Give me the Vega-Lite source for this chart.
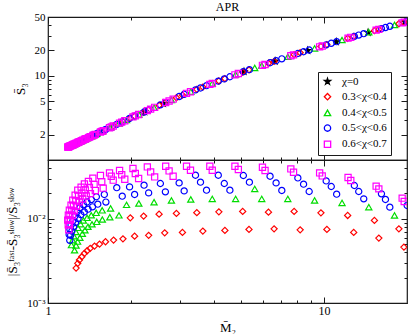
{
 "$schema": "https://vega.github.io/schema/vega-lite/v6.json",
 "background": "white",
 "padding": {"left": 6, "top": 0, "right": 3, "bottom": 2},
 "bounds": "flush",
 "config": {
  "font": "Liberation Serif",
  "view": {"stroke": "#1a1a1a", "strokeWidth": 1.2},
  "axis": {"grid": false, "domain": false, "tickColor": "#1a1a1a", "tickWidth": 1, "labelFont": "Liberation Serif", "labelFontSize": 11, "labelColor": "#000", "titleFont": "Liberation Serif", "titleFontSize": 13, "titleFontWeight": "normal", "titleColor": "#000", "labelOverlap": false, "labelFlush": false},
  "title": {"font": "Liberation Serif", "fontSize": 12, "fontWeight": "normal", "color": "#000"},
  "concat": {"spacing": 0}
 },
 "spacing": 0,
 "datasets": {"pts": [
{"chi":"χ=0","M2":2.24,"S3":3.739},{"chi":"χ=0","M2":2.619,"S3":4.693},{"chi":"χ=0","M2":5.132,"S3":11.25},{"chi":"χ=0","M2":6.652,"S3":14.97},{"chi":"χ=0","M2":8.724,"S3":19.98},{"chi":"χ=0","M2":11.08,"S3":25.39},{"chi":"χ=0","M2":14.45,"S3":32.78},{"chi":"χ=0","M2":19.65,"S3":43.54},
{"chi":"0.3<χ<0.4","M2":1.264,"S3":1.579,"D":0.0026},{"chi":"0.3<χ<0.4","M2":1.282,"S3":1.614,"D":0.00296},{"chi":"0.3<χ<0.4","M2":1.3,"S3":1.647,"D":0.00324},{"chi":"0.3<χ<0.4","M2":1.326,"S3":1.698,"D":0.00354},{"chi":"0.3<χ<0.4","M2":1.355,"S3":1.756,"D":0.00389},{"chi":"0.3<χ<0.4","M2":1.386,"S3":1.817,"D":0.00417},{"chi":"0.3<χ<0.4","M2":1.422,"S3":1.887,"D":0.00446},{"chi":"0.3<χ<0.4","M2":1.474,"S3":1.994,"D":0.00474},{"chi":"0.3<χ<0.4","M2":1.537,"S3":2.125,"D":0.00501},{"chi":"0.3<χ<0.4","M2":1.616,"S3":2.294,"D":0.00534},{"chi":"0.3<χ<0.4","M2":1.728,"S3":2.541,"D":0.00559},{"chi":"0.3<χ<0.4","M2":1.869,"S3":2.863,"D":0.00579},
{"chi":"0.3<χ<0.4","M2":1.987,"S3":3.143,"D":0.01028},{"chi":"0.3<χ<0.4","M2":2.06,"S3":3.311,"D":0.00623},{"chi":"0.3<χ<0.4","M2":2.221,"S3":3.694,"D":0.01077},{"chi":"0.3<χ<0.4","M2":2.316,"S3":3.926,"D":0.00636},{"chi":"0.3<χ<0.4","M2":2.527,"S3":4.453,"D":0.01137},{"chi":"0.3<χ<0.4","M2":2.648,"S3":4.768,"D":0.00682},{"chi":"0.3<χ<0.4","M2":2.92,"S3":5.495,"D":0.01159},{"chi":"0.3<χ<0.4","M2":3.071,"S3":5.907,"D":0.0069},{"chi":"0.3<χ<0.4","M2":3.462,"S3":6.904,"D":0.01185},{"chi":"0.3<χ<0.4","M2":3.64,"S3":7.353,"D":0.00715},{"chi":"0.3<χ<0.4","M2":4.161,"S3":8.694,"D":0.01211},{"chi":"0.3<χ<0.4","M2":4.376,"S3":9.256,"D":0.00729},{"chi":"0.3<χ<0.4","M2":5.076,"S3":11.12,"D":0.01224},{"chi":"0.3<χ<0.4","M2":5.351,"S3":11.78,"D":0.00749},{"chi":"0.3<χ<0.4","M2":6.295,"S3":14.09,"D":0.01201},{"chi":"0.3<χ<0.4","M2":6.597,"S3":14.83,"D":0.00761},{"chi":"0.3<χ<0.4","M2":7.798,"S3":17.83,"D":0.01224},{"chi":"0.3<χ<0.4","M2":8.2,"S3":18.79,"D":0.0074},{"chi":"0.3<χ<0.4","M2":9.752,"S3":22.35,"D":0.01178},{"chi":"0.3<χ<0.4","M2":10.25,"S3":23.5,"D":0.00749},{"chi":"0.3<χ<0.4","M2":12.19,"S3":27.94,"D":0.01097},{"chi":"0.3<χ<0.4","M2":12.82,"S3":29.34,"D":0.0069},{"chi":"0.3<χ<0.4","M2":15.24,"S3":34.42,"D":0.00957},{"chi":"0.3<χ<0.4","M2":15.81,"S3":35.61,"D":0.0059},{"chi":"0.3<χ<0.4","M2":18.69,"S3":41.57,"D":0.00761},{"chi":"0.3<χ<0.4","M2":19.49,"S3":43.21,"D":0.00462},
{"chi":"0.4<χ<0.5","M2":1.216,"S3":1.489,"D":0.00488},{"chi":"0.4<χ<0.5","M2":1.248,"S3":1.549,"D":0.00423},{"chi":"0.4<χ<0.5","M2":1.228,"S3":1.51,"D":0.00557},{"chi":"0.4<χ<0.5","M2":1.264,"S3":1.579,"D":0.00482},{"chi":"0.4<χ<0.5","M2":1.241,"S3":1.536,"D":0.00623},{"chi":"0.4<χ<0.5","M2":1.28,"S3":1.61,"D":0.00537},{"chi":"0.4<χ<0.5","M2":1.262,"S3":1.575,"D":0.00697},{"chi":"0.4<χ<0.5","M2":1.305,"S3":1.658,"D":0.00597},{"chi":"0.4<χ<0.5","M2":1.285,"S3":1.618,"D":0.00782},{"chi":"0.4<χ<0.5","M2":1.332,"S3":1.709,"D":0.00666},{"chi":"0.4<χ<0.5","M2":1.312,"S3":1.67,"D":0.00865},{"chi":"0.4<χ<0.5","M2":1.361,"S3":1.766,"D":0.00733},{"chi":"0.4<χ<0.5","M2":1.343,"S3":1.731,"D":0.00957},{"chi":"0.4<χ<0.5","M2":1.396,"S3":1.835,"D":0.00804},{"chi":"0.4<χ<0.5","M2":1.386,"S3":1.817,"D":0.01028},{"chi":"0.4<χ<0.5","M2":1.444,"S3":1.934,"D":0.00861},{"chi":"0.4<χ<0.5","M2":1.435,"S3":1.914,"D":0.01103},{"chi":"0.4<χ<0.5","M2":1.502,"S3":2.053,"D":0.00921},{"chi":"0.4<χ<0.5","M2":1.495,"S3":2.038,"D":0.01178},{"chi":"0.4<χ<0.5","M2":1.574,"S3":2.205,"D":0.00981},{"chi":"0.4<χ<0.5","M2":1.572,"S3":2.2,"D":0.01262},{"chi":"0.4<χ<0.5","M2":1.675,"S3":2.424,"D":0.01045},{"chi":"0.4<χ<0.5","M2":1.686,"S3":2.448,"D":0.01328},{"chi":"0.4<χ<0.5","M2":1.808,"S3":2.721,"D":0.011},
{"chi":"0.4<χ<0.5","M2":1.926,"S3":2.998,"D":0.01466},{"chi":"0.4<χ<0.5","M2":2.134,"S3":3.485,"D":0.01523},{"chi":"0.4<χ<0.5","M2":2.423,"S3":4.191,"D":0.01578},{"chi":"0.4<χ<0.5","M2":2.801,"S3":5.17,"D":0.01653},{"chi":"0.4<χ<0.5","M2":3.292,"S3":6.482,"D":0.01699},{"chi":"0.4<χ<0.5","M2":3.938,"S3":8.111,"D":0.01727},{"chi":"0.4<χ<0.5","M2":4.786,"S3":10.35,"D":0.01727},{"chi":"0.4<χ<0.5","M2":5.613,"S3":12.42,"D":0.02269},{"chi":"0.4<χ<0.5","M2":5.951,"S3":13.24,"D":0.01727},{"chi":"0.4<χ<0.5","M2":7.398,"S3":16.83,"D":0.01727},{"chi":"0.4<χ<0.5","M2":9.25,"S3":21.2,"D":0.01653},{"chi":"0.4<χ<0.5","M2":11.63,"S3":26.64,"D":0.01548},{"chi":"0.4<χ<0.5","M2":14.54,"S3":32.96,"D":0.01377},{"chi":"0.4<χ<0.5","M2":18.02,"S3":40.18,"D":0.01097},
{"chi":"0.5<χ<0.6","M2":1.193,"S3":1.446,"D":0.00651},{"chi":"0.5<χ<0.6","M2":1.199,"S3":1.458,"D":0.00556},{"chi":"0.5<χ<0.6","M2":1.201,"S3":1.461,"D":0.00745},{"chi":"0.5<χ<0.6","M2":1.208,"S3":1.474,"D":0.00636},{"chi":"0.5<χ<0.6","M2":1.212,"S3":1.482,"D":0.00842},{"chi":"0.5<χ<0.6","M2":1.22,"S3":1.495,"D":0.00715},{"chi":"0.5<χ<0.6","M2":1.231,"S3":1.516,"D":0.00952},{"chi":"0.5<χ<0.6","M2":1.239,"S3":1.531,"D":0.00804},{"chi":"0.5<χ<0.6","M2":1.251,"S3":1.553,"D":0.01077},{"chi":"0.5<χ<0.6","M2":1.259,"S3":1.569,"D":0.00904},{"chi":"0.5<χ<0.6","M2":1.275,"S3":1.6,"D":0.01211},{"chi":"0.5<χ<0.6","M2":1.285,"S3":1.618,"D":0.01008},{"chi":"0.5<χ<0.6","M2":1.305,"S3":1.658,"D":0.01358},{"chi":"0.5<χ<0.6","M2":1.315,"S3":1.677,"D":0.01122},{"chi":"0.5<χ<0.6","M2":1.344,"S3":1.733,"D":0.01466},{"chi":"0.5<χ<0.6","M2":1.354,"S3":1.753,"D":0.01207},{"chi":"0.5<χ<0.6","M2":1.385,"S3":1.815,"D":0.01587},{"chi":"0.5<χ<0.6","M2":1.397,"S3":1.838,"D":0.01303},{"chi":"0.5<χ<0.6","M2":1.436,"S3":1.917,"D":0.01694},{"chi":"0.5<χ<0.6","M2":1.45,"S3":1.946,"D":0.01388},{"chi":"0.5<χ<0.6","M2":1.497,"S3":2.043,"D":0.01829},{"chi":"0.5<χ<0.6","M2":1.515,"S3":2.08,"D":0.01494},{"chi":"0.5<χ<0.6","M2":1.6,"S3":2.259,"D":0.01947},{"chi":"0.5<χ<0.6","M2":1.621,"S3":2.306,"D":0.01582},
{"chi":"0.5<χ<0.6","M2":1.775,"S3":2.646,"D":0.02345},{"chi":"0.5<χ<0.6","M2":1.858,"S3":2.838,"D":0.01859},{"chi":"0.5<χ<0.6","M2":1.975,"S3":3.115,"D":0.02397},{"chi":"0.5<χ<0.6","M2":2.06,"S3":3.311,"D":0.01947},{"chi":"0.5<χ<0.6","M2":2.229,"S3":3.712,"D":0.02511},{"chi":"0.5<χ<0.6","M2":2.316,"S3":3.926,"D":0.02034},{"chi":"0.5<χ<0.6","M2":2.554,"S3":4.524,"D":0.0263},{"chi":"0.5<χ<0.6","M2":2.663,"S3":4.808,"D":0.02091},{"chi":"0.5<χ<0.6","M2":2.987,"S3":5.677,"D":0.02673},{"chi":"0.5<χ<0.6","M2":3.115,"S3":6.033,"D":0.02148},{"chi":"0.5<χ<0.6","M2":3.424,"S3":6.81,"D":0.03299},{"chi":"0.5<χ<0.6","M2":3.57,"S3":7.175,"D":0.02725},{"chi":"0.5<χ<0.6","M2":3.754,"S3":7.64,"D":0.0219},{"chi":"0.5<χ<0.6","M2":4.141,"S3":8.64,"D":0.03299},{"chi":"0.5<χ<0.6","M2":4.354,"S3":9.197,"D":0.0263},{"chi":"0.5<χ<0.6","M2":4.562,"S3":9.752,"D":0.0219},{"chi":"0.5<χ<0.6","M2":5.105,"S3":11.19,"D":0.03272},{"chi":"0.5<χ<0.6","M2":5.369,"S3":11.83,"D":0.02725},{"chi":"0.5<χ<0.6","M2":6.379,"S3":14.3,"D":0.0321},{"chi":"0.5<χ<0.6","M2":6.708,"S3":15.11,"D":0.02673},{"chi":"0.5<χ<0.6","M2":7.036,"S3":15.92,"D":0.02172},{"chi":"0.5<χ<0.6","M2":8.044,"S3":18.43,"D":0.03064},{"chi":"0.5<χ<0.6","M2":8.437,"S3":19.33,"D":0.0258},{"chi":"0.5<χ<0.6","M2":8.841,"S3":20.26,"D":0.02113},{"chi":"0.5<χ<0.6","M2":10.19,"S3":23.36,"D":0.02823},{"chi":"0.5<χ<0.6","M2":10.63,"S3":24.36,"D":0.02423},{"chi":"0.5<χ<0.6","M2":11.12,"S3":25.48,"D":0.01963},{"chi":"0.5<χ<0.6","M2":12.89,"S3":29.47,"D":0.0249},{"chi":"0.5<χ<0.6","M2":13.37,"S3":30.5,"D":0.02113},{"chi":"0.5<χ<0.6","M2":13.94,"S3":31.7,"D":0.01727},{"chi":"0.5<χ<0.6","M2":16.16,"S3":36.33,"D":0.0198},{"chi":"0.5<χ<0.6","M2":16.71,"S3":37.48,"D":0.01699},{"chi":"0.5<χ<0.6","M2":17.33,"S3":38.77,"D":0.01377},{"chi":"0.5<χ<0.6","M2":20.03,"S3":44.33,"D":0.01442},
{"chi":"0.6<χ<0.7","M2":1.179,"S3":1.421,"D":0.00965},{"chi":"0.6<χ<0.7","M2":1.184,"S3":1.43,"D":0.00847},{"chi":"0.6<χ<0.7","M2":1.189,"S3":1.439,"D":0.00742},{"chi":"0.6<χ<0.7","M2":1.185,"S3":1.432,"D":0.01106},{"chi":"0.6<χ<0.7","M2":1.191,"S3":1.443,"D":0.0097},{"chi":"0.6<χ<0.7","M2":1.196,"S3":1.452,"D":0.00849},{"chi":"0.6<χ<0.7","M2":1.195,"S3":1.45,"D":0.01268},{"chi":"0.6<χ<0.7","M2":1.201,"S3":1.461,"D":0.01106},{"chi":"0.6<χ<0.7","M2":1.207,"S3":1.472,"D":0.00965},{"chi":"0.6<χ<0.7","M2":1.212,"S3":1.482,"D":0.01454},{"chi":"0.6<χ<0.7","M2":1.219,"S3":1.493,"D":0.01262},{"chi":"0.6<χ<0.7","M2":1.226,"S3":1.506,"D":0.01097},{"chi":"0.6<χ<0.7","M2":1.23,"S3":1.514,"D":0.01667},{"chi":"0.6<χ<0.7","M2":1.237,"S3":1.528,"D":0.01442},{"chi":"0.6<χ<0.7","M2":1.244,"S3":1.541,"D":0.01244},{"chi":"0.6<χ<0.7","M2":1.254,"S3":1.559,"D":0.0191},{"chi":"0.6<χ<0.7","M2":1.261,"S3":1.573,"D":0.0164},{"chi":"0.6<χ<0.7","M2":1.269,"S3":1.587,"D":0.01411},{"chi":"0.6<χ<0.7","M2":1.282,"S3":1.614,"D":0.0219},{"chi":"0.6<χ<0.7","M2":1.29,"S3":1.628,"D":0.01869},{"chi":"0.6<χ<0.7","M2":1.299,"S3":1.645,"D":0.01591},{"chi":"0.6<χ<0.7","M2":1.318,"S3":1.683,"D":0.02377},{"chi":"0.6<χ<0.7","M2":1.327,"S3":1.7,"D":0.02023},{"chi":"0.6<χ<0.7","M2":1.336,"S3":1.718,"D":0.01722},{"chi":"0.6<χ<0.7","M2":1.355,"S3":1.756,"D":0.02602},{"chi":"0.6<χ<0.7","M2":1.365,"S3":1.776,"D":0.02208},{"chi":"0.6<χ<0.7","M2":1.376,"S3":1.796,"D":0.01869},{"chi":"0.6<χ<0.7","M2":1.401,"S3":1.847,"D":0.02778},{"chi":"0.6<χ<0.7","M2":1.413,"S3":1.871,"D":0.02358},{"chi":"0.6<χ<0.7","M2":1.425,"S3":1.895,"D":0.01996},{"chi":"0.6<χ<0.7","M2":1.454,"S3":1.954,"D":0.03039},{"chi":"0.6<χ<0.7","M2":1.469,"S3":1.984,"D":0.02567},{"chi":"0.6<χ<0.7","M2":1.484,"S3":2.016,"D":0.02166},{"chi":"0.6<χ<0.7","M2":1.549,"S3":2.152,"D":0.03272},{"chi":"0.6<χ<0.7","M2":1.566,"S3":2.188,"D":0.02755},{"chi":"0.6<χ<0.7","M2":1.585,"S3":2.228,"D":0.02313},
{"chi":"0.6<χ<0.7","M2":1.671,"S3":2.414,"D":0.03513},{"chi":"0.6<χ<0.7","M2":1.695,"S3":2.467,"D":0.0321},{"chi":"0.6<χ<0.7","M2":1.723,"S3":2.531,"D":0.02878},{"chi":"0.6<χ<0.7","M2":1.817,"S3":2.742,"D":0.03751},{"chi":"0.6<χ<0.7","M2":1.85,"S3":2.82,"D":0.03344},{"chi":"0.6<χ<0.7","M2":1.898,"S3":2.93,"D":0.02957},{"chi":"0.6<χ<0.7","M2":2.032,"S3":3.248,"D":0.03962},{"chi":"0.6<χ<0.7","M2":2.072,"S3":3.34,"D":0.03456},{"chi":"0.6<χ<0.7","M2":2.13,"S3":3.476,"D":0.03015},{"chi":"0.6<χ<0.7","M2":2.291,"S3":3.864,"D":0.0414},{"chi":"0.6<χ<0.7","M2":2.355,"S3":4.021,"D":0.03611},{"chi":"0.6<χ<0.7","M2":2.435,"S3":4.222,"D":0.03149},{"chi":"0.6<χ<0.7","M2":2.67,"S3":4.826,"D":0.04219},{"chi":"0.6<χ<0.7","M2":2.747,"S3":5.028,"D":0.0371},{"chi":"0.6<χ<0.7","M2":2.841,"S3":5.278,"D":0.0321},{"chi":"0.6<χ<0.7","M2":3.177,"S3":6.199,"D":0.04219},{"chi":"0.6<χ<0.7","M2":3.284,"S3":6.463,"D":0.03782},{"chi":"0.6<χ<0.7","M2":3.859,"S3":7.91,"D":0.04219},{"chi":"0.6<χ<0.7","M2":3.938,"S3":8.111,"D":0.03782},{"chi":"0.6<χ<0.7","M2":4.758,"S3":10.28,"D":0.04219},{"chi":"0.6<χ<0.7","M2":4.896,"S3":10.65,"D":0.03855},{"chi":"0.6<χ<0.7","M2":5.986,"S3":13.33,"D":0.04105},{"chi":"0.6<χ<0.7","M2":6.118,"S3":13.65,"D":0.03751},{"chi":"0.6<χ<0.7","M2":7.586,"S3":17.3,"D":0.03918},{"chi":"0.6<χ<0.7","M2":7.759,"S3":17.74,"D":0.03581},{"chi":"0.6<χ<0.7","M2":9.647,"S3":22.11,"D":0.03513},{"chi":"0.6<χ<0.7","M2":9.859,"S3":22.59,"D":0.03236},{"chi":"0.6<χ<0.7","M2":12.23,"S3":28.01,"D":0.03098},{"chi":"0.6<χ<0.7","M2":12.51,"S3":28.65,"D":0.02854},{"chi":"0.6<χ<0.7","M2":15.46,"S3":34.87,"D":0.02443},{"chi":"0.6<χ<0.7","M2":15.81,"S3":35.61,"D":0.02269},{"chi":"0.6<χ<0.7","M2":19.21,"S3":42.65,"D":0.0176},{"chi":"0.6<χ<0.7","M2":19.54,"S3":43.31,"D":0.01609}
 ]},
 "vconcat": [
  {
   "title": {"text": "APR", "offset": -3, "fontSize": 12, "frame": "group"},
   "width": 359, "height": 143,
   "data": {"name": "pts"},
   "layer": [
    {
     "mark": {"type": "point", "filled": false, "clip": true, "size": 38, "strokeWidth": 1.2, "opacity": 1},
     "encoding": {
      "x": {"field": "M2", "type": "quantitative", "scale": {"type": "log", "domain": [1, 20], "nice": false},
            "axis": {"orient": "bottom", "title": null, "labels": false, "values": [1,2,3,4,5,6,7,8,9,10],
                     "tickSize": {"condition": {"test": "datum.value==1||datum.value==10", "value": -6}, "value": -3}}},
      "y": {"field": "S3", "type": "quantitative", "scale": {"type": "log", "domain": [1, 50], "nice": false},
            "axis": {"orient": "left", "title": "S\u0304\u2083", "values": [2,3,4,5,6,7,8,9,10,20,30,40,50],
                     "labelExpr": "indexof([2,5,10,20,50], datum.value) >= 0 ? datum.label : ''",
                     "tickSize": {"condition": {"test": "indexof([2,5,10,20,50], datum.value) >= 0", "value": -6}, "value": -3},
                     "labelPadding": 9, "titlePadding": 7}},
      "color": {"field": "chi", "type": "nominal",
                "scale": {"domain": ["χ=0","0.3<χ<0.4","0.4<χ<0.5","0.5<χ<0.6","0.6<χ<0.7"], "range": ["#000000","#ff0000","#00dd00","#0000ff","#ff00ff"]},
                "legend": {"orient": "none", "legendX": 270, "legendY": 55, "title": null, "strokeColor": "#1a1a1a", "fillColor": "#ffffff", "padding": 4, "labelFontSize": 11, "labelFont": "Liberation Serif", "labelColor": "#000", "symbolSize": 40, "symbolStrokeWidth": 1.3, "labelOffset": 9, "rowPadding": 3.2}},
      "shape": {"field": "chi", "type": "nominal",
                "scale": {"domain": ["χ=0","0.3<χ<0.4","0.4<χ<0.5","0.5<χ<0.6","0.6<χ<0.7"], "range": ["M0,-1L0.225,-0.31L0.95,-0.31L0.365,0.12L0.59,0.81L0,0.38L-0.59,0.81L-0.365,0.12L-0.95,-0.31L-0.225,-0.31Z","diamond","triangle-up","circle","square"]},
                "legend": {"title": null}},
      "fill": {"field": "chi", "type": "nominal",
               "scale": {"domain": ["χ=0","0.3<χ<0.4","0.4<χ<0.5","0.5<χ<0.6","0.6<χ<0.7"], "range": ["#000000","transparent","transparent","transparent","transparent"]},
               "legend": {"title": null}}
     }
    },
    {
     "mark": {"type": "point", "opacity": 0},
     "encoding": {
      "x": {"field": "M2", "type": "quantitative", "scale": {"type": "log", "domain": [1, 20], "nice": false},
            "axis": {"orient": "top", "title": null, "labels": false, "values": [1,2,3,4,5,6,7,8,9,10],
                     "tickSize": {"condition": {"test": "datum.value==1||datum.value==10", "value": -6}, "value": -3}}},
      "y": {"field": "S3", "type": "quantitative", "scale": {"type": "log", "domain": [1, 50], "nice": false},
            "axis": {"orient": "right", "title": null, "labels": false, "values": [2,3,4,5,6,7,8,9,10,20,30,40,50],
                     "tickSize": {"condition": {"test": "indexof([2,5,10,20,50], datum.value) >= 0", "value": -6}, "value": -3}}}
     }
    }
   ],
   "resolve": {"axis": {"x": "independent", "y": "independent"}}
  },
  {
   "width": 359, "height": 143,
   "data": {"name": "pts"},
   "transform": [{"filter": "datum.D > 0"}],
   "layer": [
    {
     "mark": {"type": "point", "filled": false, "clip": true, "size": 38, "strokeWidth": 1.2, "opacity": 1},
     "encoding": {
      "x": {"field": "M2", "type": "quantitative", "scale": {"type": "log", "domain": [1, 20], "nice": false},
            "axis": {"orient": "bottom", "title": "M\u0304\u2082", "values": [1,2,3,4,5,6,7,8,9,10],
                     "labelExpr": "datum.value==1||datum.value==10 ? datum.label : ''",
                     "labelFontSize": 12,
                     "tickSize": {"condition": {"test": "datum.value==1||datum.value==10", "value": -6}, "value": -3},
                     "labelPadding": 8, "titlePadding": 2}},
      "y": {"field": "D", "type": "quantitative", "scale": {"type": "log", "domain": [0.001, 0.05], "nice": false},
            "axis": {"orient": "left", "title": "|S\u0304\u2083\u1da0\u1d43\u02e2\u1d57-S\u0304\u2083\u02e2\u02e1\u1d52\u02b7|/S\u0304\u2083\u02e2\u02e1\u1d52\u02b7",
                     "values": [0.001,0.002,0.003,0.004,0.005,0.006,0.007,0.008,0.009,0.01,0.02,0.03,0.04,0.05],
                     "labelExpr": "datum.value==0.001 ? '10⁻³' : datum.value==0.01 ? '10⁻²' : ''",
                     "tickSize": {"condition": {"test": "datum.value==0.001||datum.value==0.01", "value": -6}, "value": -3},
                     "labelPadding": 9, "titlePadding": 7}},
      "color": {"field": "chi", "type": "nominal",
                "scale": {"domain": ["χ=0","0.3<χ<0.4","0.4<χ<0.5","0.5<χ<0.6","0.6<χ<0.7"], "range": ["#000000","#ff0000","#00dd00","#0000ff","#ff00ff"]},
                "legend": null},
      "shape": {"field": "chi", "type": "nominal",
                "scale": {"domain": ["χ=0","0.3<χ<0.4","0.4<χ<0.5","0.5<χ<0.6","0.6<χ<0.7"], "range": ["M0,-1L0.225,-0.31L0.95,-0.31L0.365,0.12L0.59,0.81L0,0.38L-0.59,0.81L-0.365,0.12L-0.95,-0.31L-0.225,-0.31Z","diamond","triangle-up","circle","square"]},
                "legend": null}
     }
    },
    {
     "mark": {"type": "point", "opacity": 0},
     "encoding": {
      "x": {"field": "M2", "type": "quantitative", "scale": {"type": "log", "domain": [1, 20], "nice": false},
            "axis": {"orient": "top", "title": null, "labels": false, "values": [1,2,3,4,5,6,7,8,9,10],
                     "tickSize": {"condition": {"test": "datum.value==1||datum.value==10", "value": -6}, "value": -3}}},
      "y": {"field": "D", "type": "quantitative", "scale": {"type": "log", "domain": [0.001, 0.05], "nice": false},
            "axis": {"orient": "right", "title": null, "labels": false,
                     "values": [0.001,0.002,0.003,0.004,0.005,0.006,0.007,0.008,0.009,0.01,0.02,0.03,0.04,0.05],
                     "tickSize": {"condition": {"test": "datum.value==0.001||datum.value==0.01", "value": -6}, "value": -3}}}
     }
    }
   ],
   "resolve": {"axis": {"x": "independent", "y": "independent"}}
  }
 ],
 "resolve": {"scale": {"color": "independent", "shape": "independent", "fill": "independent"}}
}
